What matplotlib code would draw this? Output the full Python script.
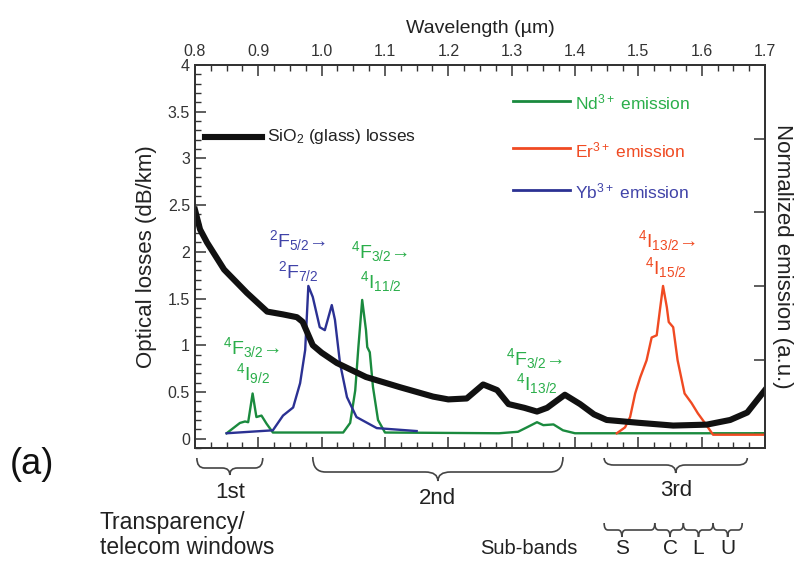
import numpy as np
import matplotlib
matplotlib.use('Agg')
import matplotlib.pyplot as plt
from matplotlib.path import Path
from matplotlib.patches import PathPatch
import matplotlib.transforms as mtransforms
from matplotlib.ticker import MultipleLocator

plt.rcParams['font.family'] = ['Liberation Sans', 'DejaVu Sans']
plt.rcParams['mathtext.fontset'] = 'custom'
plt.rcParams['mathtext.rm'] = 'Liberation Sans'
plt.rcParams['mathtext.it'] = 'Liberation Sans'

# SiO2 attenuation (dB/km) vs wavelength (um)
loss_wl = [0.80, 0.808, 0.819, 0.846, 0.882, 0.914, 0.939, 0.961, 0.97, 0.986, 1.00,
           1.024, 1.07, 1.124, 1.176, 1.20, 1.229, 1.255, 1.277, 1.295, 1.32, 1.34,
           1.356, 1.384, 1.408, 1.43, 1.45, 1.50, 1.555, 1.608, 1.645, 1.672, 1.70]
loss = [2.45, 2.24, 2.10, 1.81, 1.56, 1.36, 1.33, 1.30, 1.25, 1.00, 0.92,
        0.81, 0.66, 0.55, 0.45, 0.42, 0.43, 0.58, 0.52, 0.37, 0.33, 0.29,
        0.33, 0.47, 0.37, 0.26, 0.20, 0.17, 0.14, 0.15, 0.20, 0.28, 0.52]

# normalized emission spectra
yb_wl = [0.85, 0.923, 0.939, 0.955, 0.966, 0.974, 0.979, 0.986, 0.997, 1.005, 1.016,
         1.021, 1.029, 1.04, 1.055, 1.087, 1.15]
yb = [0.0, 0.04, 0.24, 0.35, 0.68, 1.13, 2.0, 1.85, 1.44, 1.40, 1.74,
      1.54, 0.95, 0.49, 0.22, 0.07, 0.03]

nd_wl = [0.85, 0.871, 0.879, 0.884, 0.891, 0.897, 0.905, 0.913, 0.923, 1.034, 1.045,
         1.053, 1.058, 1.064, 1.07, 1.072, 1.076, 1.081, 1.089, 1.10, 1.28, 1.31,
         1.324, 1.34, 1.35, 1.366, 1.381, 1.40, 1.70]
nd = [0.0, 0.14, 0.16, 0.15, 0.54, 0.22, 0.24, 0.13, 0.01, 0.01, 0.14,
      0.58, 1.17, 1.81, 1.40, 1.17, 1.10, 0.63, 0.18, 0.01, 0.0, 0.02,
      0.08, 0.15, 0.11, 0.12, 0.04, 0.0, 0.0]

er_wl = [1.466, 1.479, 1.487, 1.495, 1.503, 1.513, 1.521, 1.529, 1.534, 1.539, 1.545,
         1.548, 1.555, 1.562, 1.573, 1.584, 1.594, 1.605, 1.618, 1.70]
er = [0.0, 0.08, 0.22, 0.54, 0.76, 0.99, 1.30, 1.33, 1.67, 2.0, 1.71,
      1.51, 1.44, 0.99, 0.54, 0.41, 0.27, 0.14, -0.02, -0.02]

# windows and sub-bands (um)
windows = {'1st': (0.803, 0.907), '2nd': (0.986, 1.381), '3rd': (1.446, 1.672)}
subbands = {'S': (1.446, 1.526), 'C': (1.526, 1.571), 'L': (1.571, 1.618), 'U': (1.618, 1.664)}
subband_label_x = {'S': 1.474, 'C': 1.55, 'L': 1.595, 'U': 1.641}

BLACK = '#111111'
GREEN = '#1a8a3e'
GREEN_T = '#2aae4a'
RED = '#f04a22'
BLUE = '#2b3193'
BLUE_T = '#4043a8'
AX = '#333333'
TXT = '#222222'

fig = plt.figure(figsize=(8.03, 5.65), dpi=100)
ax = fig.add_axes([0.2428, 0.2071, 0.7099, 0.6779])
ax2 = ax.twinx()

ax2.plot(nd_wl, nd, color=GREEN, lw=1.7)
ax2.plot(yb_wl, yb, color=BLUE, lw=1.7)
ax2.plot(er_wl, er, color=RED, lw=1.7)
ax.plot(loss_wl, loss, color=BLACK, lw=4.4, solid_joinstyle='round')

ax.set_zorder(ax2.get_zorder() + 1)
ax.patch.set_visible(False)

ax.set_xlim(0.8, 1.7)
ax.set_ylim(-0.1, 4)
ax2.set_ylim(-0.2, 5)

ax.xaxis.set_major_locator(MultipleLocator(0.1))
ax.xaxis.set_minor_locator(MultipleLocator(0.025))
ax.yaxis.set_minor_locator(MultipleLocator(0.1))
ax.xaxis.set_major_formatter(matplotlib.ticker.FormatStrFormatter('%.1f'))
ax.set_yticks([0, 0.5, 1, 1.5, 2, 2.5, 3, 3.5, 4])
ax.set_yticklabels(['0', '0.5', '1', '1.5', '2', '2.5', '3', '3.5', '4'])
ax.tick_params(axis='x', which='both', direction='in', top=True, bottom=True,
               labeltop=True, labelbottom=False, colors=AX, labelsize=11.5, pad=4)
ax.tick_params(axis='y', which='both', direction='in', right=False, colors=AX, labelsize=11.5)
ax.tick_params(which='major', length=8, width=1.1)
ax.tick_params(which='minor', length=4, width=1.0)
ax2.set_yticks([0, 1, 2, 3, 4])
ax2.tick_params(axis='y', direction='in', length=8, width=1.1, labelright=False, colors=AX)
for a in (ax, ax2):
    for s in a.spines.values():
        s.set_color(AX)
        s.set_linewidth(1.3)

ax.xaxis.set_label_position('top')
ax.set_xlabel('Wavelength (µm)', fontsize=14, color=TXT, labelpad=8)
ax.set_ylabel('Optical losses (dB/km)', fontsize=16, color=TXT, labelpad=8)
ax2.set_ylabel('Normalized emission (a.u.)', fontsize=16, color=TXT,
               rotation=-90, labelpad=20)

# legend
tr = ax.transAxes
ax.plot([0.0175, 0.1175], [0.812, 0.812], color=BLACK, lw=4.4, transform=tr, clip_on=False)
ax.text(0.126, 0.812, 'SiO$_2$ (glass) losses', transform=tr, va='center', fontsize=12.5, color=TXT)
for yy, col, tcol, txt in [(0.906, GREEN, GREEN_T, 'Nd$^{3+}$ emission'),
                           (0.783, RED, RED, 'Er$^{3+}$ emission'),
                           (0.674, BLUE, BLUE_T, 'Yb$^{3+}$ emission')]:
    ax.plot([0.558, 0.658], [yy, yy], color=col, lw=2.0, transform=tr)
    ax.text(0.667, yy - 0.005, txt, transform=tr, va='center', fontsize=12.5, color=tcol)

# transition labels
ann = [
    (0.962, 2.12, '$^2$F$_{5/2}$→', BLUE_T), (0.963, 1.79, '$^2$F$_{7/2}$', BLUE_T),
    (1.092, 2.00, '$^4$F$_{3/2}$→', GREEN_T), (1.094, 1.68, '$^4$I$_{11/2}$', GREEN_T),
    (0.889, 0.97, '$^4$F$_{3/2}$→', GREEN_T), (0.891, 0.70, '$^4$I$_{9/2}$', GREEN_T),
    (1.337, 0.86, '$^4$F$_{3/2}$→', GREEN_T), (1.340, 0.59, '$^4$I$_{13/2}$', GREEN_T),
    (1.545, 2.12, '$^4$I$_{13/2}$→', RED), (1.544, 1.83, '$^4$I$_{15/2}$', RED),
]
for x, y, t, c in ann:
    ax.text(x, y, t, ha='center', va='center', fontsize=14, color=c)

# braces below axis
bt = mtransforms.blended_transform_factory(ax.transData, fig.transFigure)


def brace(x0, x1, ytop, ybot, ytip, r, xm=None):
    if xm is None:
        xm = 0.5 * (x0 + x1)
    verts = [(x0, ytop), (x0, ybot), (x0 + r, ybot), (xm - r, ybot),
             (xm, ybot), (xm, ytip), (xm, ybot), (xm + r, ybot),
             (x1 - r, ybot), (x1, ybot), (x1, ytop)]
    codes = [Path.MOVETO, Path.CURVE3, Path.CURVE3, Path.LINETO,
             Path.CURVE3, Path.CURVE3, Path.CURVE3, Path.CURVE3,
             Path.LINETO, Path.CURVE3, Path.CURVE3]
    p = PathPatch(Path(verts, codes), fill=False, lw=1.2, edgecolor='#444444',
                  transform=bt, clip_on=False)
    fig.add_artist(p)


def fy(py):
    return 1 - py / 565


brace(*windows['1st'], fy(458), fy(468), fy(475), 0.012)
brace(*windows['2nd'], fy(457), fy(472), fy(481), 0.02)
brace(*windows['3rd'], fy(458), fy(465), fy(473), 0.015)
for k, (a, b) in subbands.items():
    brace(a, b, fy(523), fy(530), fy(537), 0.006, subband_label_x[k])

for k, (a, b) in windows.items():
    yy = {'1st': 492, '2nd': 498, '3rd': 491}[k]
    ax.text((a + b) / 2, fy(yy), k, transform=bt, ha='center', va='center',
            fontsize=16, color=TXT)
for k in subbands:
    ax.text(subband_label_x[k], fy(549), k, transform=bt, ha='center', va='center',
            fontsize=15, color=TXT)
ax.text(1.327, fy(549), 'Sub-bands', transform=bt, ha='center', va='center',
        fontsize=14.5, color=TXT)
fig.text(100 / 803, fy(522), 'Transparency/', ha='left', va='center', fontsize=16.5, color=TXT)
fig.text(100 / 803, fy(548), 'telecom windows', ha='left', va='center', fontsize=16.5, color=TXT)
fig.text(10 / 803, fy(465), '(a)', ha='left', va='center', fontsize=26, color='#111111')

fig.savefig('out.png', dpi=100)
